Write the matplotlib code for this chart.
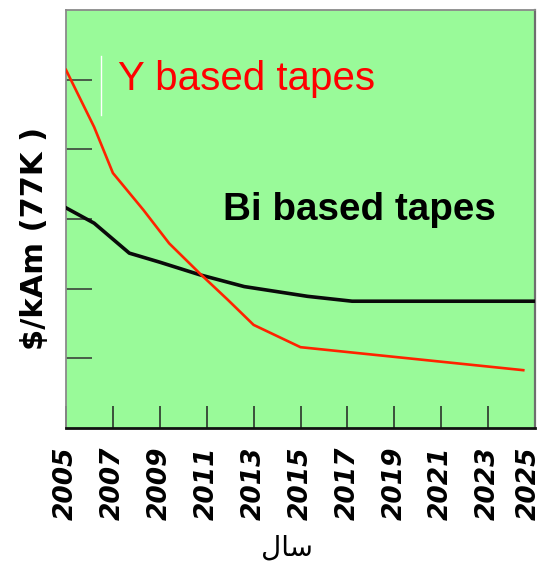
import matplotlib
matplotlib.use("Agg")
import matplotlib.pyplot as plt
from matplotlib.transforms import ScaledTranslation

# Data (arbitrary $/kAm units)
y_years = [2005, 2006.2, 2007.0, 2008.3, 2009.4, 2010.7, 2011.9, 2013.0, 2015.0, 2024.5]
y_cost = [5.14, 4.32, 3.66, 3.13, 2.65, 2.22, 1.84, 1.48, 1.16, 0.83]
bi_years = [2005, 2006.2, 2007.7, 2009.0, 2010.7, 2012.6, 2015.3, 2017.2, 2025]
bi_cost = [3.16, 2.94, 2.51, 2.38, 2.20, 2.03, 1.89, 1.82, 1.82]
x_ticks = list(range(2005, 2026, 2))
x_tick_labels = [str(t) for t in x_ticks]
y_ticks = [1, 2, 3, 4, 5]
y_label = "$/kAm (77K )"
x_label = "\ufedd\ufe8e\ufeb3"  # "سال" in presentation forms (visual order)
label_y_series = "Y based tapes"
label_bi_series = "Bi based tapes"

W, H = 545, 566
fig = plt.figure(figsize=(W / 100, H / 100), dpi=100)
ax = fig.add_axes([66 / W, 1 - 428 / H, (535 - 66) / W, (428 - 10) / H])
ax.set_facecolor("#99fa99")

ax.plot(bi_years, bi_cost, color="#0a0a0a", lw=2.6, solid_joinstyle="round", zorder=3)
ax.plot(y_years, y_cost, color="#ff2200", lw=1.9, solid_joinstyle="round", zorder=4)

ax.set_xlim(2005, 2025)
ax.set_ylim(0, 6)

ax.set_xticks(x_ticks)
ax.set_xticklabels(x_tick_labels, rotation=90, family="DejaVu Sans",
                   fontweight="bold", fontstyle="oblique", fontsize=19)
ax.set_yticks(y_ticks)
ax.set_yticklabels([])
ax.tick_params(axis="x", direction="in", length=16, width=1.1, color="#222222", pad=13)
ax.tick_params(axis="y", direction="in", length=19, width=1.1, color="#333333")

# keep the last tick label inside the canvas
last = ax.get_xticklabels()[-1]
last.set_transform(last.get_transform() + ScaledTranslation(-6 / 100, 0, fig.dpi_scale_trans))

for side in ("top", "left"):
    ax.spines[side].set_color("#8a8a8a")
    ax.spines[side].set_linewidth(1.3)
ax.spines["right"].set_color("#6e6e6e")
ax.spines["right"].set_linewidth(1.6)
ax.spines["bottom"].set_color("#111111")
ax.spines["bottom"].set_linewidth(2.0)

# thin white artefact line near the Y label
ax.axvline(2006.5, ymin=0.75, ymax=0.89, color="white", lw=1.0, zorder=2)

ax.text(2007.2, 4.85, label_y_series, color="#ff0000", fontsize=29,
        family="Liberation Sans", ha="left", va="baseline")
ax.text(2011.7, 2.98, label_bi_series, color="#000000", fontsize=27.8,
        family="Liberation Sans", fontweight="bold", ha="left", va="baseline")

fig.text(35 / W, 1 - 238 / H, y_label, rotation=90, family="DejaVu Sans",
         fontweight="bold", fontsize=22, ha="center", va="center")
fig.text(287 / W, 1 - 548 / H, x_label, family="DejaVu Sans", fontsize=20,
         ha="center", va="center")

fig.savefig("out.png", dpi=100)
